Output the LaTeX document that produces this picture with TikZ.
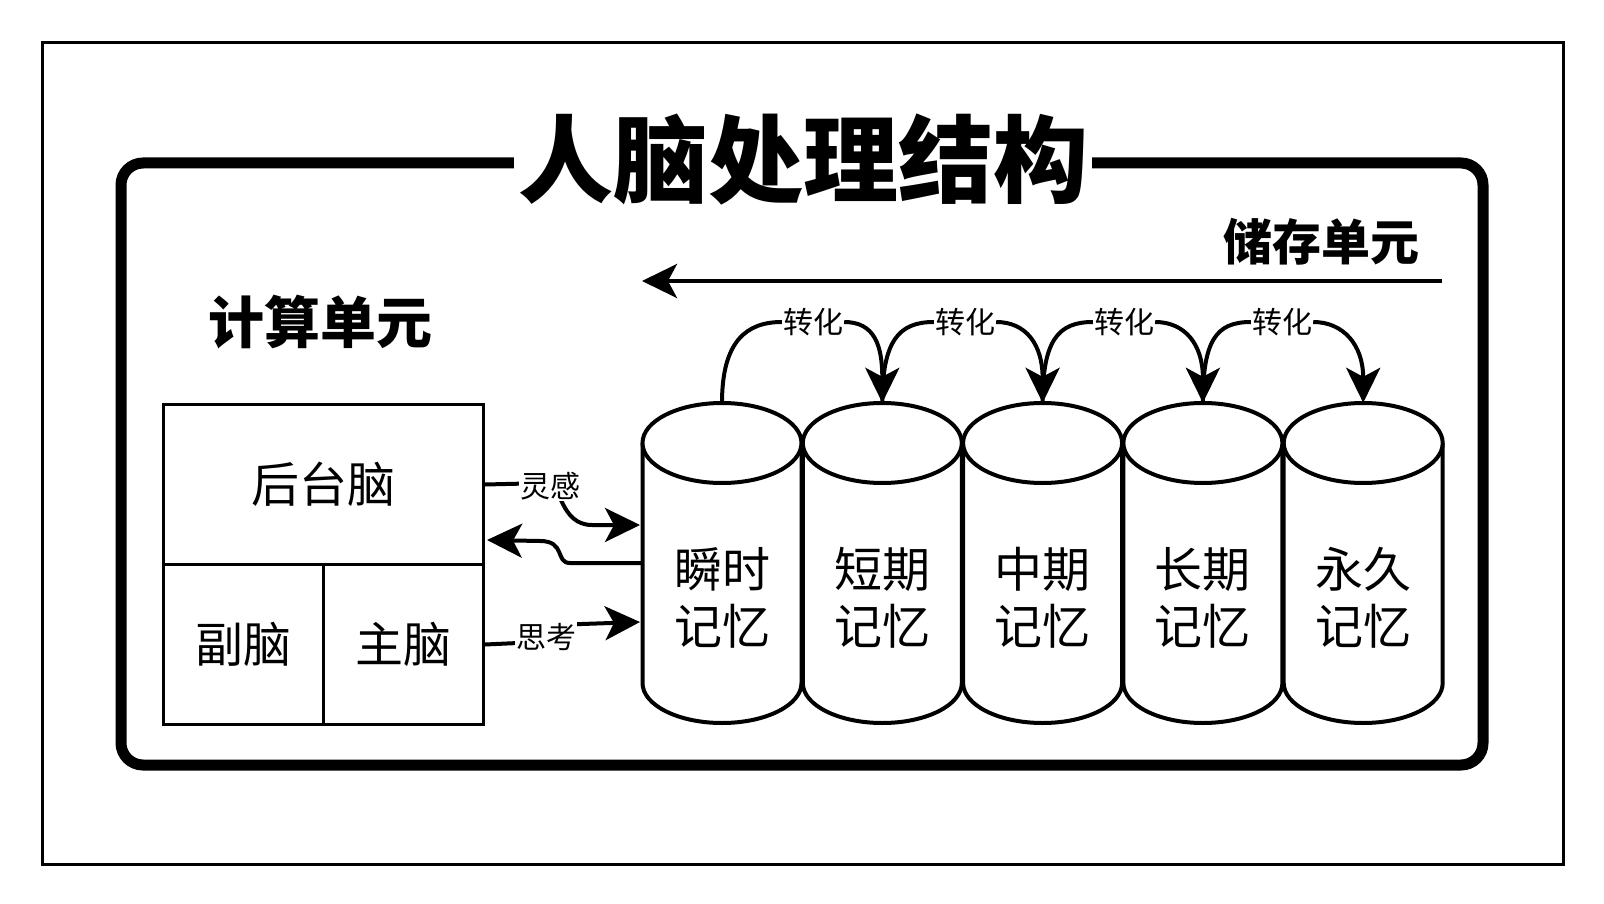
\documentclass[tikz,border=0pt]{standalone}
\usepackage{fontspec}
\newfontfamily\cjk{Noto Sans CJK SC}
\usetikzlibrary{arrows.meta}
\begin{document}
\begin{tikzpicture}[x=1pt,y=-1pt,
  every node/.style={font=\cjk},
  boxcell/.style={draw, line width=3pt, inner sep=0pt, anchor=north west, font=\cjk\fontsize{48}{57}\selectfont},
  cylbody/.style={draw, line width=4pt, fill=white},
  conn/.style={line width=4pt},
  tipped/.style={-{Stealth[length=35pt,width=34pt,inset=9pt]}},
  lab/.style={fill=white, inner sep=1pt, font=\cjk\fontsize{30}{36}\selectfont},
  head/.style={font=\cjk\bfseries\fontsize{#1}{#1}\selectfont}
]
\useasboundingbox (0,0) rectangle (1604,904);
\fill[white] (0,0) rectangle (1604,904);
% frames
\draw[line width=3pt] (42,43) rectangle (1563,864);
\draw[line width=11pt, rounded corners=22pt] (121,163) rectangle (1483,765);
\node[head=95, fill=white, inner xsep=4pt, inner ysep=0pt] (title) at (803,159) {人脑处理结构};
% section labels
\node[head=49] (store) at (1321,242) {储存单元};
\node[head=56] (calc) at (320,322) {计算单元};
\coordinate (sR) at (1442,281);
\coordinate (sL) at (642,281);
\draw[conn, tipped] (sR) -- (sL);
% left box
\node[boxcell, minimum width=320pt, minimum height=160pt] (back) at (162,403) {后台脑};
\node[boxcell, minimum width=160pt, minimum height=160pt] (sub) at (162,563) {副脑};
\node[boxcell, minimum width=160pt, minimum height=160pt] (main) at (322,563) {主脑};
% cylinders
\foreach \i/\t in {0/瞬时,1/短期,2/中期,3/长期,4/永久}{
  \pgfmathsetmacro\cx{722+160.3*\i}
  \draw[cylbody] (\cx-79.5,443) -- (\cx-79.5,683)
     arc[start angle=180, end angle=0, x radius=79.5, y radius=40] -- (\cx+79.5,443);
  \draw[cylbody] (\cx,443) ellipse[x radius=79.5, y radius=40];
  \node[minimum width=159pt, minimum height=320pt, inner sep=0pt] (cyl\i) at (\cx,563) {};
  \node[align=center, font=\cjk\fontsize{48}{57}\selectfont] (m\i) at (\cx,598) {\t\\记忆};
}
% transform arcs
\foreach \i/\lx in {0/813,1/965,2/1124,3/1282}{
  \pgfmathtruncatemacro\j{\i+1}
  \node[lab] (z\i) at (\lx,322) {转化};
  \draw[conn] (cyl\i.north) .. controls +(0,-62) and +(-35,0) .. (z\i.west);
  \draw[conn, tipped] (z\i.east) .. controls +(30,0) and +(0,-58) .. (cyl\j.north);
}
% box <-> memory
\coordinate (in1) at (640,525);
\coordinate (out1) at (642,563);
\coordinate (back2) at (487,540);
\coordinate (in3) at (640,622);
\draw[conn, tipped] (back.east) -- (548,483) .. controls (561,483) and (560,525) .. (592,525) -- (in1);
\node[lab] (lg) at (550,486) {灵感};
\draw[conn, tipped] (out1) -- (570,563) .. controls (555,563) and (566,541) .. (540,541) -- (back2);
\draw[conn, tipped] (main.east) -- (540,642) .. controls (560,642) and (556,624) .. (582,624) -- (in3);
\node[lab] (tk) at (546,637) {思考};
\end{tikzpicture}
\end{document}
